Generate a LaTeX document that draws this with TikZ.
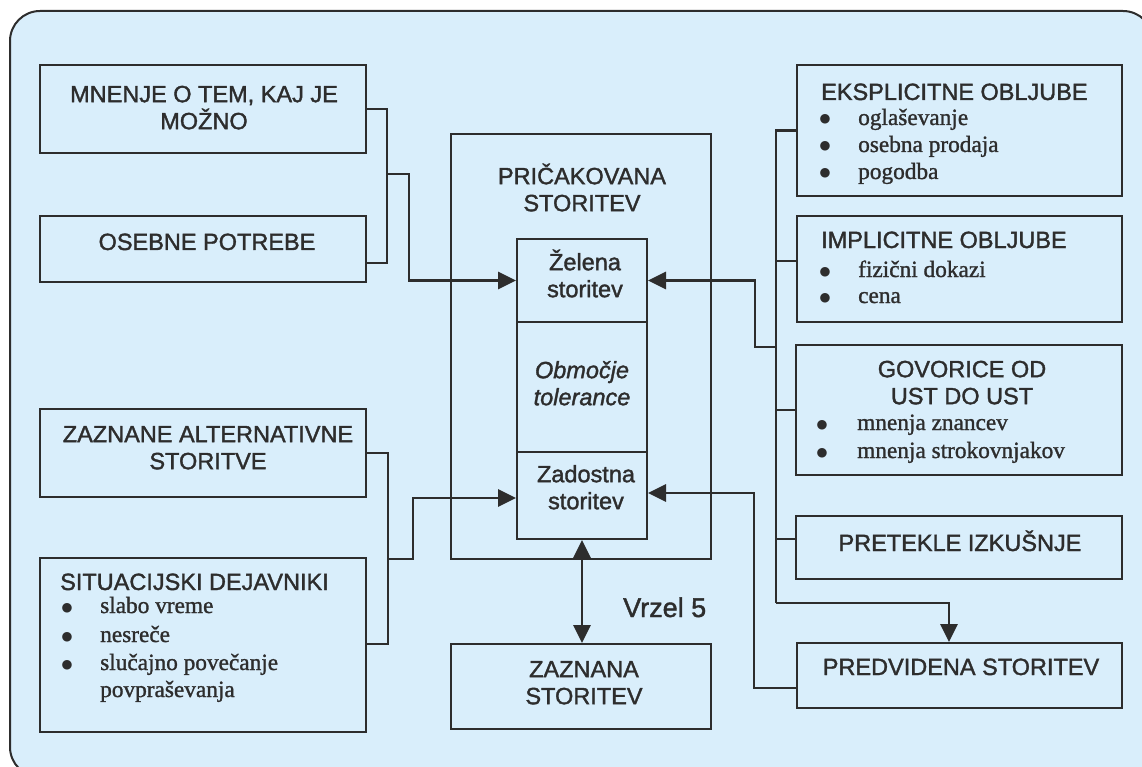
\documentclass[tikz,border=0pt]{standalone}
\usepackage{fontspec}
\setmainfont{Liberation Serif}[FakeBold=1.2]
\setsansfont{Liberation Sans}[FakeBold=1.5]
\newfontfamily\dotfont{DejaVu Sans}
\usetikzlibrary{fit,arrows.meta}
\definecolor{panel}{RGB}{217,238,251}
\definecolor{ink}{RGB}{45,45,45}
% invisible strut fixing the height of a first text line
\newcommand\hd{\rule{0pt}{22pt}}
% list bullet followed by the indent before the item text
\newcommand\bul[1]{\makebox[#1][l]{\hspace{-0.5pt}\raisebox{2pt}{\dotfont\fontsize{12.5}{12.5}\selectfont ●}}}

\begin{document}
\begin{tikzpicture}[x=1pt,y=-1pt,
  box/.style={draw=ink, line width=2pt, inner sep=0pt},
  wire/.style={draw=ink, line width=2.2pt},
  feed/.style={draw=ink, line width=2.8pt, -{Triangle[length=18pt,width=17pt]}},
  twoway/.style={draw=ink, line width=2.8pt, {Triangle[length=18pt,width=17pt]}-{Triangle[length=18pt,width=17pt]}},
  hsans/.style={inner sep=0pt, text=ink, font=\sffamily\fontsize{23.5}{27}\selectfont},
  ctr/.style={hsans, anchor=north, align=center},
  itm/.style={inner sep=0pt, text=ink, anchor=base west, font=\rmfamily\fontsize{23.3}{27}\selectfont},
]
\useasboundingbox (0,0) rectangle (1142,767);

% background panel
\begin{scope}
  \clip (0,0) rectangle (1142,767);
  \draw[draw=ink, line width=2pt, fill=panel, rounded corners=30pt] (10,11) rectangle (1153,777);
\end{scope}

% left column
\node[box, fit={(40,65) (366,153)}] (mnenje) {};
\node[box, fit={(40,216) (366,282)}] (osebne) {};
\node[box, fit={(40,409) (366,497)}] (zaznane) {};
\node[box, fit={(40,558) (366,732)}] (situac) {};

% centre column
\node[box, fit={(451,134) (711,559)}] (pricak) {};
\node[box, fit={(517,239) (647,322)}] (zelena) {};
\node[box, fit={(517,322) (647,452)}] (obmocje) {};
\node[box, fit={(517,452) (647,539)}] (zadostna) {};
\node[box, fit={(451,644) (711,729)}] (zaznana) {};

% right column
\node[box, fit={(797,65) (1122,196)}] (eks) {};
\node[box, fit={(797,216) (1122,322)}] (imp) {};
\node[box, fit={(796,345) (1122,475)}] (gov) {};
\node[box, fit={(796,516) (1122,579)}] (pret) {};
\node[box, fit={(797,643) (1122,708)}] (pred) {};

% texts, left
\node[ctr] (mnenje-t) at (204,80) {\hd MNENJE O TEM, KAJ JE\\MOŽNO};
\node[hsans, anchor=base] (osebne-t) at (207,250) {OSEBNE POTREBE};
\node[ctr] (zaznane-t) at (208,420) {\hd ZAZNANE ALTERNATIVNE\\STORITVE};
\node[hsans, anchor=base west] (situac-t) at (60,590) {SITUACIJSKI DEJAVNIKI};
\node[itm] (situac-1) at (62,613) {\bul{38pt}slabo vreme};
\node[itm] (situac-2) at (62,642) {\bul{38pt}nesreče};
\node[itm] (situac-3) at (62,670) {\bul{38pt}slučajno povečanje};
\node[itm] (situac-4) at (100,697) {povpraševanja};

% texts, centre
\node[ctr] (pricak-t) at (582,162) {\hd PRIČAKOVANA\\STORITEV};
\node[ctr] (zelena-t) at (585,248) {\hd Želena\\storitev};
\node[ctr, font=\sffamily\itshape\fontsize{23.5}{27}\selectfont] (obmocje-t) at (582,356) {\hd Območje\\tolerance};
\node[ctr] (zadostna-t) at (586,460) {\hd Zadostna\\storitev};
\node[ctr] (zaznana-t) at (584,655) {\hd ZAZNANA\\STORITEV};
\node[hsans, anchor=base west, font=\sffamily\fontsize{27}{30}\selectfont] (vrzel) at (623,617) {Vrzel 5};

% texts, right
\node[hsans, anchor=base west] (eks-t) at (821,100) {EKSPLICITNE OBLJUBE};
\node[itm] (eks-1) at (820,125) {\bul{38pt}oglaševanje};
\node[itm] (eks-2) at (820,152) {\bul{38pt}osebna prodaja};
\node[itm] (eks-3) at (820,179) {\bul{38pt}pogodba};
\node[hsans, anchor=base west] (imp-t) at (821,248) {IMPLICITNE OBLJUBE};
\node[itm] (imp-1) at (820,277) {\bul{38pt}fizični dokazi};
\node[itm] (imp-2) at (820,303) {\bul{38pt}cena};
\node[ctr] (gov-t) at (962,355) {\hd GOVORICE OD\\UST DO UST};
\node[itm] (gov-1) at (817,430) {\bul{40pt}mnenja znancev};
\node[itm] (gov-2) at (817,458) {\bul{40pt}mnenja strokovnjakov};
\node[hsans, anchor=base] (pret-t) at (960,551) {PRETEKLE IZKUŠNJE};
\node[hsans, anchor=base] (pred-t) at (961,675) {PREDVIDENA STORITEV};

% left connectors
\coordinate (jl) at (387,174);
\draw[wire] (mnenje.east) -| (jl);
\draw[wire] (osebne.east |- 0,263) -| (jl);
\draw[feed] (jl) -- (409,174) |- (zelena.west);

\coordinate (jl2) at (388,559);
\draw[wire] (zaznane.east) -| (jl2);
\draw[wire] (situac.east |- 0,644) -| (jl2);
\draw[feed] (jl2) -- (413,559) |- (zadostna.west |- 0,498);

% right bus
\coordinate (rbot) at (776,603);
\draw[wire] (eks.west) -| (rbot);
\draw[wire] (imp.west |- 0,261) -- (rbot |- 0,261);
\draw[wire] (gov.west) -- (gov.west -| rbot);
\draw[wire] (pret.west |- 0,539) -- (rbot |- 0,539);
\draw[feed] (rbot) -| (pred.north -| 949,0);
\draw[feed] (rbot |- 0,347) -- (755,347) |- (zelena.east);
\draw[feed] (pred.west |- 0,688) -| (754,493) -- (zadostna.east |- 0,493);

% gap between adequate and perceived service
\draw[twoway] (zadostna.south) -- (zaznana.north -| zadostna.south);
\end{tikzpicture}
\end{document}
